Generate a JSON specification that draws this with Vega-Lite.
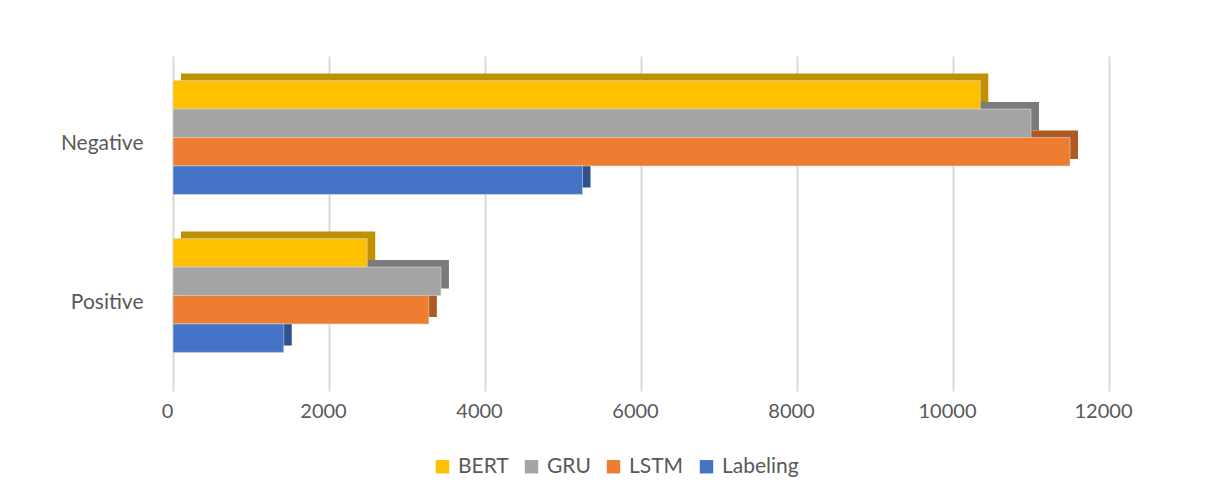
{
  "$schema": "https://vega.github.io/schema/vega-lite/v6.json",
  "autosize": "none",
  "width": 936,
  "height": 335,
  "padding": {"left": 173, "top": 49, "right": 105, "bottom": 118},
  "background": "white",
  "data": {
    "values": [
      {"sentiment": "Negative", "model": "BERT", "count": 10350},
      {"sentiment": "Negative", "model": "GRU", "count": 11000},
      {"sentiment": "Negative", "model": "LSTM", "count": 11500},
      {"sentiment": "Negative", "model": "Labeling", "count": 5250},
      {"sentiment": "Positive", "model": "BERT", "count": 2490},
      {"sentiment": "Positive", "model": "GRU", "count": 3435},
      {"sentiment": "Positive", "model": "LSTM", "count": 3280},
      {"sentiment": "Positive", "model": "Labeling", "count": 1420}
    ]
  },
  "encoding": {
    "yOffset": {
      "field": "model",
      "type": "nominal",
      "sort": ["BERT", "GRU", "LSTM", "Labeling"]
    },
    "x": {
      "field": "count",
      "type": "quantitative",
      "scale": {"domain": [0, 12000], "nice": false},
      "axis": {
        "title": null,
        "values": [0, 2000, 4000, 6000, 8000, 10000, 12000],
        "format": "d",
        "domain": false,
        "ticks": false,
        "labelFlush": false,
        "labelOffset": -6,
        "labelPadding": 17,
        "labelFont": "Lato",
        "labelFontSize": 20,
        "labelColor": "#595959",
        "grid": true,
        "gridColor": "#d9d9d9",
        "gridWidth": 2
      }
    }
  },
  "layer": [
    {
      "mark": {"type": "bar", "xOffset": 8},
      "encoding": {
        "y": {
          "field": "sentiment",
          "type": "nominal",
          "sort": ["Negative", "Positive"],
          "scale": {"paddingInner": 0.28, "paddingOuter": 0.2, "range": [-7, 328]},
          "axis": null
        },
        "color": {
          "field": "model",
          "type": "nominal",
          "scale": {
            "domain": ["BERT", "GRU", "LSTM", "Labeling"],
            "range": ["#BF9000", "#7B7B7B", "#AE5A21", "#2F528F"]
          },
          "legend": null
        }
      }
    },
    {
      "mark": {"type": "bar", "stroke": "#d9d9d9", "strokeWidth": 0.6},
      "encoding": {
        "y": {
          "field": "sentiment",
          "type": "nominal",
          "sort": ["Negative", "Positive"],
          "scale": {"paddingInner": 0.28, "paddingOuter": 0.2},
          "axis": {
            "title": null,
            "domain": false,
            "ticks": false,
            "labelPadding": 30,
            "labelOffset": 7,
            "labelFont": "Lato",
            "labelFontSize": 21,
            "labelColor": "#595959"
          }
        },
        "color": {
          "field": "model",
          "type": "nominal",
          "sort": ["BERT", "GRU", "LSTM", "Labeling"],
          "scale": {
            "domain": ["BERT", "GRU", "LSTM", "Labeling"],
            "range": ["#FFC000", "#A5A5A5", "#ED7D31", "#4472C4"]
          },
          "legend": {
            "title": null,
            "orient": "none",
            "direction": "horizontal",
            "legendX": 259,
            "legendY": 407,
            "symbolType": "square",
            "symbolSize": 180,
            "symbolStrokeWidth": 0,
            "labelFont": "Lato",
            "labelFontSize": 21,
            "labelColor": "#595959",
            "columnPadding": 12,
            "labelOffset": 5
          }
        }
      }
    }
  ],
  "resolve": {"scale": {"color": "independent", "y": "independent"}},
  "config": {
    "view": {"stroke": null},
    "axisY": {"grid": false}
  }
}
